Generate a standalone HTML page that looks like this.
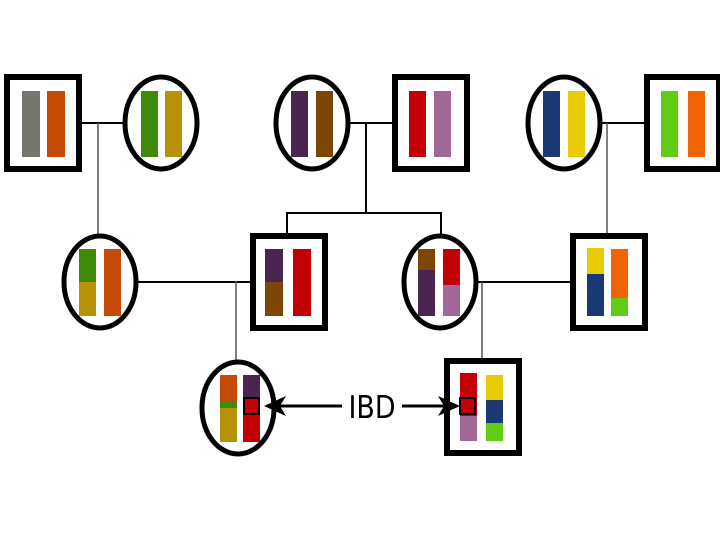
<!DOCTYPE html>
<html><head><meta charset="utf-8"><style>html,body{margin:0;padding:0;background:#fff}svg{display:block}</style></head>
<body>
<svg width="720" height="540" viewBox="0 0 720 540" xmlns="http://www.w3.org/2000/svg">
<g stroke="#000" stroke-width="2" fill="none">
<line x1="82" y1="123" x2="123" y2="123"/>
<line x1="350" y1="123" x2="392" y2="123"/>
<line x1="602" y1="123" x2="644" y2="123"/>
<line x1="366" y1="123" x2="366" y2="213"/>
<polyline points="287,234 287,213 441,213 441,234"/>
<line x1="138" y1="282" x2="250" y2="282"/>
<line x1="478" y1="282" x2="570" y2="282"/>
</g>
<g stroke="#555" stroke-width="1.5">
<line x1="98" y1="123" x2="98" y2="234"/>
<line x1="607" y1="123" x2="607" y2="234"/>
<line x1="236" y1="281" x2="236" y2="360"/>
<line x1="482" y1="282" x2="482" y2="360"/>
</g>
<!-- top row -->
<rect x="7" y="77" width="72" height="92" fill="#fff" stroke="#000" stroke-width="6"/>
<rect x="22" y="91" width="18" height="66" fill="#75766f"/><rect x="47" y="91" width="18" height="66" fill="#c44a06"/>
<ellipse cx="161" cy="123" rx="36" ry="46" fill="#fff" stroke="#000" stroke-width="5"/>
<rect x="141" y="91" width="17" height="66" fill="#3f8a0a"/><rect x="165" y="91" width="17" height="66" fill="#b89206"/>
<ellipse cx="312" cy="123" rx="36" ry="46" fill="#fff" stroke="#000" stroke-width="5"/>
<rect x="291" y="91" width="17" height="66" fill="#4a2550"/><rect x="316" y="91" width="17" height="66" fill="#7c4606"/>
<rect x="395" y="77" width="72" height="92" fill="#fff" stroke="#000" stroke-width="6"/>
<rect x="409" y="91" width="17" height="66" fill="#c20006"/><rect x="434" y="91" width="17" height="66" fill="#a06896"/>
<ellipse cx="564" cy="123" rx="36" ry="46" fill="#fff" stroke="#000" stroke-width="5"/>
<rect x="543" y="91" width="17" height="66" fill="#1a3874"/><rect x="568" y="91" width="17" height="66" fill="#e8cc08"/>
<rect x="647" y="77" width="72" height="92" fill="#fff" stroke="#000" stroke-width="6"/>
<rect x="661" y="91" width="17" height="66" fill="#62cc14"/><rect x="688" y="91" width="17" height="66" fill="#f06408"/>
<!-- row 2 -->
<ellipse cx="100" cy="282" rx="36" ry="46" fill="#fff" stroke="#000" stroke-width="5"/>
<rect x="79" y="249" width="17" height="33" fill="#3f8a0a"/><rect x="79" y="282" width="17" height="34" fill="#b89206"/>
<rect x="104" y="249" width="17" height="67" fill="#c44a06"/>
<rect x="253" y="236" width="72" height="92" fill="#fff" stroke="#000" stroke-width="6"/>
<rect x="265" y="249" width="18" height="33" fill="#4a2550"/><rect x="265" y="282" width="18" height="34" fill="#7c4606"/>
<rect x="293" y="249" width="18" height="67" fill="#c20006"/>
<ellipse cx="440" cy="282" rx="36" ry="46" fill="#fff" stroke="#000" stroke-width="5"/>
<rect x="418" y="249" width="17" height="21" fill="#7c4606"/><rect x="418" y="270" width="17" height="46" fill="#4a2550"/>
<rect x="443" y="249" width="17" height="36" fill="#c20006"/><rect x="443" y="285" width="17" height="31" fill="#a06896"/>
<rect x="573" y="236" width="72" height="92" fill="#fff" stroke="#000" stroke-width="6"/>
<rect x="587" y="248" width="17" height="26" fill="#e8cc08"/><rect x="587" y="274" width="17" height="42" fill="#1a3874"/>
<rect x="611" y="249" width="17" height="49" fill="#f06408"/><rect x="611" y="298" width="17" height="18" fill="#62cc14"/>
<!-- row 3 -->
<ellipse cx="238" cy="408" rx="36" ry="46" fill="#fff" stroke="#000" stroke-width="5"/>
<rect x="220" y="375" width="17" height="26" fill="#c44a06"/><rect x="220" y="401" width="17" height="7" fill="#3f8a0a"/><rect x="220" y="408" width="17" height="34" fill="#b89206"/>
<rect x="243" y="375" width="17" height="23" fill="#4a2550"/><rect x="243" y="398" width="17" height="44" fill="#c20006"/>
<rect x="244" y="398" width="15" height="16" fill="#c20006" stroke="#000" stroke-width="2"/>
<rect x="447" y="361" width="72" height="92" fill="#fff" stroke="#000" stroke-width="6"/>
<rect x="460" y="373" width="17" height="25" fill="#c20006"/><rect x="460" y="398" width="17" height="18" fill="#c20006"/><rect x="460" y="416" width="17" height="25" fill="#a06896"/>
<rect x="460" y="398" width="15" height="16" fill="#c20006" stroke="#000" stroke-width="2"/>
<rect x="486" y="375" width="17" height="25" fill="#e8cc08"/><rect x="486" y="400" width="17" height="23" fill="#1a3874"/><rect x="486" y="423" width="17" height="18" fill="#62cc14"/>
<!-- IBD arrow -->
<g stroke="#000" stroke-width="3">
<line x1="272" y1="406" x2="342" y2="406"/>
<line x1="402" y1="406" x2="450" y2="406"/>
</g>
<polygon points="264,406 286,396 280,406 286,416" fill="#000"/>
<polygon points="460,406 438,396 444,406 438,416" fill="#000"/>
<text x="372" y="418" font-family="DejaVu Sans, Liberation Sans, sans-serif" font-size="31" text-anchor="middle" textLength="47" lengthAdjust="spacingAndGlyphs">IBD</text>
</svg>
</body></html>
